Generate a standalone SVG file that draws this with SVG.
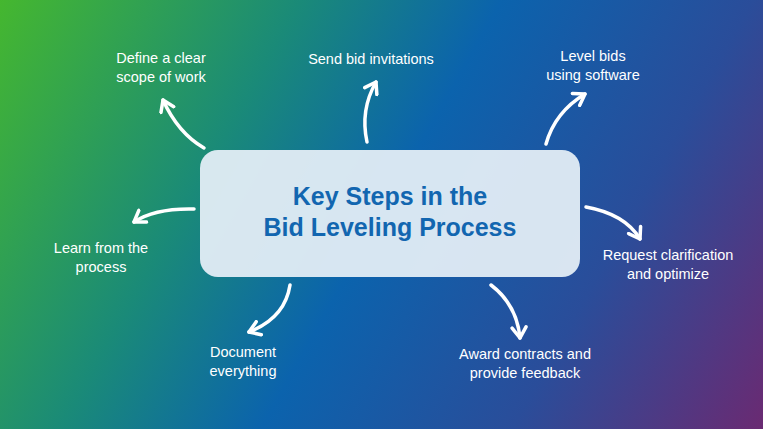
<svg xmlns="http://www.w3.org/2000/svg" width="763" height="429" viewBox="0 0 763 429">
<defs>
<linearGradient id="bg" x1="0" y1="0" x2="763" y2="429" gradientUnits="userSpaceOnUse">
<stop offset="0" stop-color="#45b72f"/>
<stop offset="0.3" stop-color="#1a8a78"/>
<stop offset="0.5" stop-color="#0b63ad"/>
<stop offset="0.75" stop-color="#2a4d9a"/>
<stop offset="1" stop-color="#6a2a72"/>
</linearGradient>
<marker id="ah" viewBox="0 0 10 10" refX="7" refY="5" markerWidth="5" markerHeight="5" orient="auto" markerUnits="strokeWidth">
<path d="M1,1 L7,5 L1,9" fill="none" stroke="#fff" stroke-width="2" stroke-linecap="round" stroke-linejoin="round"/>
</marker>
</defs>
<style>
.t{font-family:"Liberation Sans",Arial,sans-serif;font-size:14.5px;fill:#fff;text-anchor:middle}
.c{fill:none;stroke:#fff;stroke-width:3.5;stroke-linecap:round;marker-end:url(#ah)}
</style>
<rect width="763" height="429" fill="url(#bg)"/>
<g id="center">
<rect x="200" y="150" width="380" height="127" rx="18" fill="#e3edf5" opacity="0.95"/>
<text x="390" y="205" font-family="Liberation Sans,Arial,sans-serif" font-weight="bold" font-size="25" fill="#1266b0" text-anchor="middle">Key Steps in the</text>
<text x="390" y="236" font-family="Liberation Sans,Arial,sans-serif" font-weight="bold" font-size="25" fill="#1266b0" text-anchor="middle">Bid Leveling Process</text>
</g>
<g id="connectors">
<path class="c" d="M204,148 Q178,133 163,100"/>
<path class="c" d="M367,142 Q360,110 376,82"/>
<path class="c" d="M546,144 Q555,112 585,94"/>
<path class="c" d="M586,207 Q625,214 640,239"/>
<path class="c" d="M491,285 Q517,305 520,338"/>
<path class="c" d="M290,285 Q285,318 249,332"/>
<path class="c" d="M194,209 Q155,208 134,222"/>
</g>
<g id="n1"><text class="t" x="161" y="63">Define a clear</text><text class="t" x="161" y="82">scope of work</text></g>
<g id="n2"><text class="t" x="371" y="64">Send bid invitations</text></g>
<g id="n3"><text class="t" x="593" y="61">Level bids</text><text class="t" x="593" y="80">using software</text></g>
<g id="n4"><text class="t" x="668" y="260">Request clarification</text><text class="t" x="668" y="279">and optimize</text></g>
<g id="n5"><text class="t" x="525" y="359">Award contracts and</text><text class="t" x="525" y="378">provide feedback</text></g>
<g id="n6"><text class="t" x="243" y="357">Document</text><text class="t" x="243" y="376">everything</text></g>
<g id="n7"><text class="t" x="101" y="253">Learn from the</text><text class="t" x="101" y="272">process</text></g>
</svg>
